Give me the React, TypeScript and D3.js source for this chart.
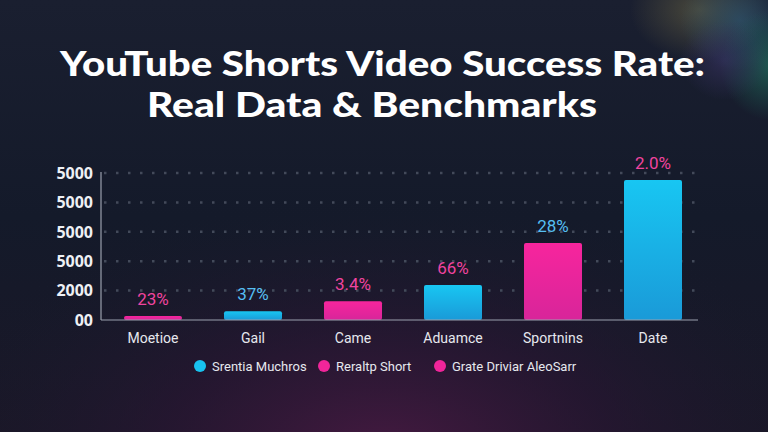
import React from "react";
import * as d3 from "d3";

const categories = ["Moetioe", "Gail", "Came", "Aduamce", "Sportnins", "Date"];
const values = [0.14, 0.3, 0.64, 1.19, 2.62, 4.76];
const valueLabels = ["23%", "37%", "3.4%", "66%", "28%", "2.0%"];
const barSeries = [1, 0, 1, 0, 1, 0]; // 0 = cyan, 1 = pink
const labelSeries = [1, 0, 1, 1, 0, 1];
const yTickLabels = ["00", "2000", "5000", "5000", "5000", "5000"];
const legendLabels = ["Srentia Muchros", "Reraltp Short", "Grate Driviar AleoSarr"];
const legendSeries = [0, 1, 1];
const titleLines = ["YouTube Shorts Video Success Rate:", "Real Data & Benchmarks"];

const W = 768;
const H = 432;
const CYAN = "#18c2ef";
const PINK = "#f0259a";
const LABEL_COLORS = ["#56bff2", "#f0449f"];

export default function App() {
  const x = d3
    .scaleBand<string>()
    .domain(categories)
    .range([103, 703])
    .paddingInner(0.42)
    .paddingOuter(0.21);
  const y = d3.scaleLinear().domain([0, 5]).range([320, 173]);
  const ticks = d3.range(0, 6);

  const legendX = d3.scaleOrdinal<string, number>().domain(legendLabels).range([200, 324, 440]);

  return (
    <svg
      width={W}
      height={H}
      style={{ position: "absolute", left: 0, top: 0, display: "block" }}
      fontFamily="Roboto, sans-serif"
    >
      <defs>
        <radialGradient id="glowBottom" cx="0.5" cy="1.05" r="0.6">
          <stop offset="0" stopColor="#4a1a44" stopOpacity="0.9" />
          <stop offset="0.5" stopColor="#2a1634" stopOpacity="0.6" />
          <stop offset="1" stopColor="#161b2b" stopOpacity="0" />
        </radialGradient>
        <radialGradient id="glowYellow" cx="0.5" cy="0.5" r="0.5">
          <stop offset="0" stopColor="#5e5a40" stopOpacity="0.7" />
          <stop offset="1" stopColor="#5e5a40" stopOpacity="0" />
        </radialGradient>
        <radialGradient id="glowTeal" cx="0.5" cy="0.5" r="0.5">
          <stop offset="0" stopColor="#1f6a5a" stopOpacity="0.75" />
          <stop offset="1" stopColor="#1f6a5a" stopOpacity="0" />
        </radialGradient>
        <radialGradient id="glowBlue" cx="0.5" cy="0.5" r="0.5">
          <stop offset="0" stopColor="#2c5a7a" stopOpacity="0.6" />
          <stop offset="1" stopColor="#2c5a7a" stopOpacity="0" />
        </radialGradient>
        <radialGradient id="glowPurple" cx="0.5" cy="0.5" r="0.5">
          <stop offset="0" stopColor="#3a3466" stopOpacity="0.6" />
          <stop offset="1" stopColor="#3a3466" stopOpacity="0" />
        </radialGradient>
        <linearGradient id="cyanGrad" x1="0" y1="0" x2="0" y2="1">
          <stop offset="0" stopColor="#18c6f2" />
          <stop offset="1" stopColor="#1a9ad8" />
        </linearGradient>
        <linearGradient id="pinkGrad" x1="0" y1="0" x2="0" y2="1">
          <stop offset="0" stopColor="#f7259d" />
          <stop offset="1" stopColor="#d8259a" />
        </linearGradient>
        <linearGradient id="bgGrad" x1="0" y1="0" x2="0" y2="1">
          <stop offset="0" stopColor="#1a1f30" />
          <stop offset="0.5" stopColor="#141a2a" />
          <stop offset="1" stopColor="#1a1727" />
        </linearGradient>
      </defs>

      <rect width={W} height={H} fill="url(#bgGrad)" />
      <rect width={W} height={H} fill="url(#glowBottom)" />
      <ellipse cx={700} cy={10} rx={70} ry={50} fill="url(#glowYellow)" />
      <ellipse cx={740} cy={20} rx={60} ry={50} fill="url(#glowBlue)" />
      <ellipse cx={770} cy={65} rx={50} ry={55} fill="url(#glowTeal)" />
      <ellipse cx={725} cy={60} rx={45} ry={40} fill="url(#glowPurple)" />

      {/* Title */}
      <g fill="#ffffff" fontWeight={900} fontFamily="Lato, sans-serif">
        <text x={60} y={76} fontSize={35} textLength={645} lengthAdjust="spacingAndGlyphs">
          {titleLines[0]}
        </text>
        <text x={147} y={117} fontSize={35} textLength={450} lengthAdjust="spacingAndGlyphs">
          {titleLines[1]}
        </text>
      </g>

      {/* Gridlines */}
      <g>
        {ticks.slice(1).map((t) => (
          <line
            key={t}
            x1={104}
            x2={700}
            y1={y(t)}
            y2={y(t)}
            stroke="#434a5a"
            strokeWidth={2.5}
            strokeDasharray="2.5 9.5"
          />
        ))}
      </g>

      {/* Y tick labels */}
      <g fill="#eef0f5" fontSize={16} fontWeight={700} textAnchor="end" fontFamily="'Open Sans', sans-serif">
        {ticks.map((t, i) => (
          <text key={t} x={93} y={y(t)} dy="0.36em">
            {yTickLabels[i]}
          </text>
        ))}
      </g>

      {/* Bars */}
      <g>
        {categories.map((c, i) => (
          <rect
            key={c}
            x={x(c)}
            y={y(values[i])}
            width={x.bandwidth()}
            height={y(0) - y(values[i])}
            rx={2}
            fill={barSeries[i] === 0 ? "url(#cyanGrad)" : "url(#pinkGrad)"}
          />
        ))}
      </g>

      {/* Axes */}
      <line x1={101} x2={101} y1={172} y2={320} stroke="#9aa0ad" strokeWidth={1.2} />
      <line x1={101} x2={698} y1={320} y2={320} stroke="#9aa0ad" strokeWidth={1.2} />

      {/* Value labels */}
      <g fontSize={17} textAnchor="middle" fontFamily="Roboto, sans-serif">
        {categories.map((c, i) => (
          <text
            key={c}
            x={(x(c) as number) + x.bandwidth() / 2}
            y={y(values[i]) - 11}
            fill={LABEL_COLORS[labelSeries[i]]}
          >
            {valueLabels[i]}
          </text>
        ))}
      </g>

      {/* X labels */}
      <g fontSize={14} textAnchor="middle" fill="#e6e8ee" fontFamily="Roboto, sans-serif">
        {categories.map((c) => (
          <text key={c} x={(x(c) as number) + x.bandwidth() / 2} y={343}>
            {c}
          </text>
        ))}
      </g>

      {/* Legend */}
      <g fontSize={13} fill="#e6e8ee" fontFamily="Roboto, sans-serif">
        {legendLabels.map((l, i) => (
          <g key={l}>
            <circle cx={legendX(l)} cy={366} r={6} fill={legendSeries[i] === 0 ? CYAN : PINK} />
            <text x={legendX(l) + 12} y={366} dy="0.35em">
              {l}
            </text>
          </g>
        ))}
      </g>
    </svg>
  );
}
